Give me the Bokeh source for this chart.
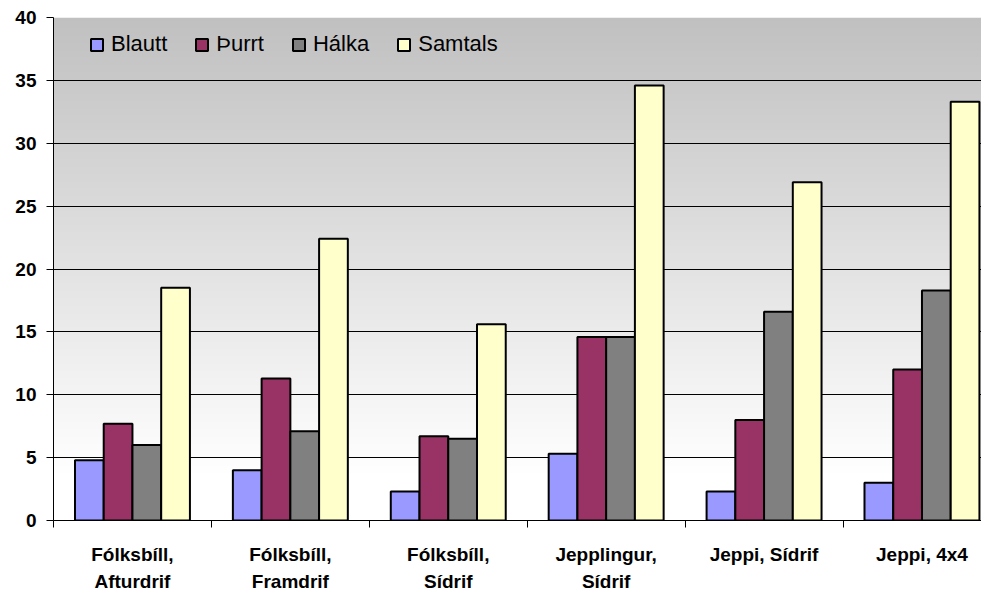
import numpy as np
from bokeh.plotting import figure
from bokeh.models import ColumnDataSource, Range1d, FixedTicker, Legend, LegendItem
from bokeh.transform import dodge
from bokeh.embed import file_html
from bokeh.resources import INLINE

categories = ["Fólksbíll,\nAfturdrif", "Fólksbíll,\nFramdrif", "Fólksbíll,\nSídrif",
              "Jepplingur,\nSídrif", "Jeppi, Sídrif", "Jeppi, 4x4"]
series_names = ["Blautt", "Þurrt", "Hálka", "Samtals"]
blautt = [4.8, 4.0, 2.3, 5.3, 2.3, 3.0]
thurrt = [7.7, 11.3, 6.7, 14.6, 8.0, 12.0]
halka = [6.0, 7.1, 6.5, 14.6, 16.6, 18.3]
samtals = [18.5, 22.4, 15.6, 34.6, 26.9, 33.3]
colors = ["#9999FF", "#993366", "#808080", "#FFFFCC"]
y_ticks = [0, 5, 10, 15, 20, 25, 30, 35, 40]

FONT = "Liberation Sans"

centers = np.arange(len(categories)) + 0.5
source = ColumnDataSource(dict(x=centers, Blautt=blautt, Thurrt=thurrt,
                               Halka=halka, Samtals=samtals))

p = figure(width=981, height=594, output_backend="svg", toolbar_location=None,
           x_range=Range1d(0, 5.877), y_range=Range1d(0, 40),
           min_border_left=53, min_border_right=0, min_border_top=17, min_border_bottom=72)
p.background_fill_color = "white"
p.border_fill_color = "white"
p.outline_line_color = None

# vertical gradient background (white at low values to gray at top)
g0, g1 = 3.5, 40.0
n = 365
img = np.zeros((n, 1), dtype=np.uint32)
view = img.view(dtype=np.uint8).reshape((n, 1, 4))
for i in range(n):
    t = i / (n - 1)
    c = int(round(255 - t * (255 - 192)))
    view[i, 0, 0] = c
    view[i, 0, 1] = c
    view[i, 0, 2] = c
    view[i, 0, 3] = 255
bg = p.image_rgba(image=[img], x=0, y=g0, dw=6, dh=g1 - g0)
bg.level = "image"

fields = ["Blautt", "Thurrt", "Halka", "Samtals"]
bw = 0.182
items = []
for i, (f, name, col) in enumerate(zip(fields, series_names, colors)):
    r = p.vbar(x=dodge("x", (i - 1.5) * bw), top=f, width=bw, source=source,
               fill_color=col, line_color="black", line_width=2)
    items.append(LegendItem(label=name, renderers=[r]))

legend = Legend(items=items, orientation="horizontal", location=(36, 463),
                margin=0, padding=0, spacing=27,
                glyph_width=15, glyph_height=15, label_standoff=7,
                label_text_font=FONT, label_text_font_size="22px",
                label_text_color="black",
                background_fill_alpha=0, border_line_color=None)
p.add_layout(legend)

# grid
p.xgrid.grid_line_color = None
p.ygrid.ticker = FixedTicker(ticks=y_ticks)
p.ygrid.grid_line_color = "#000000"
p.ygrid.grid_line_width = 1

# y axis
p.yaxis.ticker = FixedTicker(ticks=y_ticks)
p.yaxis.axis_line_color = "black"
p.yaxis.major_tick_out = 7
p.yaxis.major_tick_in = 0
p.yaxis.minor_tick_line_color = None
p.yaxis.major_label_standoff = 10
p.yaxis.major_label_text_font = FONT
p.yaxis.major_label_text_font_style = "bold"
p.yaxis.major_label_text_font_size = "19px"
p.yaxis.major_label_text_color = "black"

# x axis
p.xaxis.ticker = FixedTicker(ticks=list(centers), minor_ticks=list(range(len(categories) + 1)))
p.xaxis.major_label_overrides = {float(c): lab for c, lab in zip(centers, categories)}
p.xaxis.axis_line_color = "black"
p.xaxis.major_tick_out = 0
p.xaxis.major_tick_in = 0
p.xaxis.minor_tick_out = 7
p.xaxis.minor_tick_in = 0
p.xaxis.minor_tick_line_color = "black"
p.xaxis.major_label_standoff = 16
p.xaxis.major_label_text_font = FONT
p.xaxis.major_label_text_font_style = "bold"
p.xaxis.major_label_text_font_size = "19px"
p.xaxis.major_label_text_line_height = 1.3
p.xaxis.major_label_text_color = "black"

open("out.html", "w").write(file_html(p, INLINE))
